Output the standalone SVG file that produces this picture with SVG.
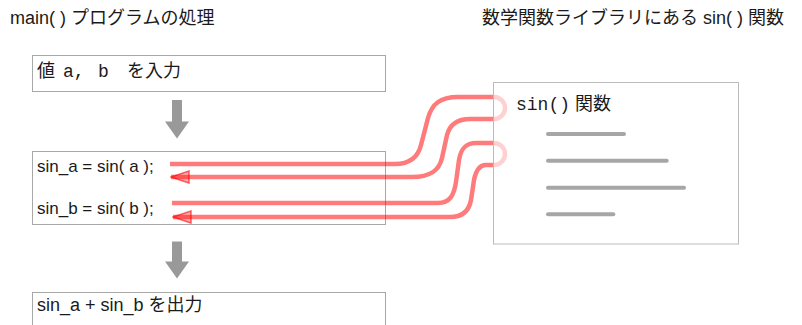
<svg xmlns="http://www.w3.org/2000/svg" width="802" height="325" viewBox="0 0 802 325">
<style>
.t{font-family:"Liberation Sans","Noto Sans CJK JP",sans-serif;font-size:18px;fill:#1a1a1a}
.c{font-size:17px}
.m{font-family:"Liberation Mono","Noto Sans CJK JP",monospace}
.box{fill:#fff;stroke:#a8a8a8;stroke-width:1}
.conn{fill:none;stroke:#ff0000;stroke-opacity:0.52;stroke-width:4.5;stroke-linejoin:round}
.bar{stroke:#a6a6a6;stroke-width:4;stroke-linecap:round}
.garrow{fill:#999}
</style>
<defs>
<marker id="ah" viewBox="0 0 20 14" refX="19" refY="7" markerWidth="20" markerHeight="14" markerUnits="userSpaceOnUse" orient="auto">
<path d="M1,1 L19,7 L1,13 z" fill="#ff0000" fill-opacity="0.3" stroke="#ff0000" stroke-opacity="0.6" stroke-width="1.5"/>
</marker>
</defs>
<text class="t" x="10" y="24">main( ) プログラムの処理</text>
<text class="t" x="482" y="24">数学関数ライブラリにある sin( ) 関数</text>
<g id="input">
<rect class="box" x="32.5" y="55.5" width="353" height="36"/>
<text class="t" y="77"><tspan x="37">値</tspan><tspan class="m" x="63">a,</tspan><tspan class="m" x="98">b</tspan><tspan x="127">を入力</tspan></text>
</g>
<g id="arrow1"><rect class="garrow" x="172" y="100" width="10" height="22"/><polygon class="garrow" points="165,121.5 189,121.5 177,138.5"/></g>
<g id="calc">
<rect class="box" x="32.5" y="151.5" width="353" height="73"/>
<text class="t c" x="37" y="172">sin_a = sin( a );</text>
<text class="t c" x="37" y="214">sin_b = sin( b );</text>
</g>
<g id="arrow2"><rect class="garrow" x="172" y="241.5" width="10" height="21"/><polygon class="garrow" points="165,261.5 189,261.5 177,278.5"/></g>
<g id="output">
<rect class="box" x="32.5" y="292.5" width="353" height="40"/>
<text class="t" x="37" y="311">sin_a + sin_b を出力</text>
</g>
<g id="connectors">
<path class="conn" marker-end="url(#ah)" d="M170,164 H395 C410,164 418,157 421,145 L428,118 C432,104 440,97 458,97 H494 A11,11 0 0 1 494,119 H470 C458,119 450,124 447,135 L442,158 C439,171 430,177 412,177 H171"/>
<path class="conn" marker-end="url(#ah)" d="M172,203 H438 C450,203 454,195 456,182 L459,160 C461,148 466,143 476,143 H494 A11,11 0 0 1 494,165 H486 C480,165 476,170 474,180 L471,200 C469,211 462,217 450,217 H173"/>
</g>
<g id="sin">
<rect x="493.5" y="82.5" width="245" height="161.5" fill="#fff" fill-opacity="0.65" stroke="#bbb" stroke-width="1"/>
<text class="t" x="516" y="110"><tspan class="m">sin()</tspan> 関数</text>
<line class="bar" x1="548" y1="134" x2="624" y2="134"/>
<line class="bar" x1="548" y1="160.7" x2="666.7" y2="160.7"/>
<line class="bar" x1="548" y1="187.7" x2="684" y2="187.7"/>
<line class="bar" x1="548" y1="214.3" x2="613.3" y2="214.3"/>
</g>
</svg>
